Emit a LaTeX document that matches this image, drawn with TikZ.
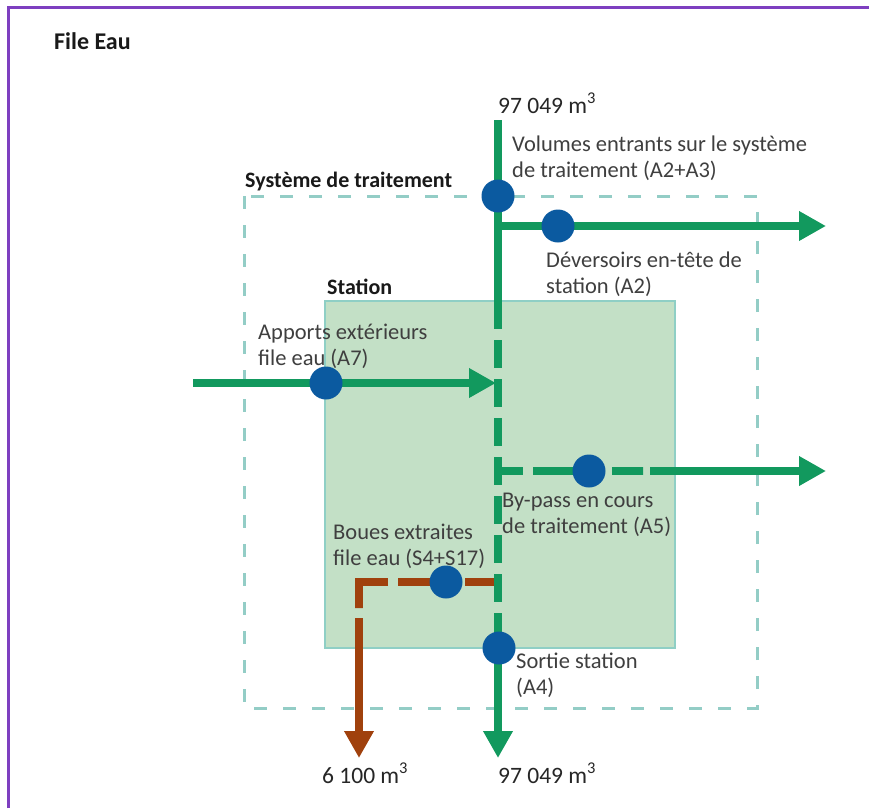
\documentclass[tikz,border=0pt]{standalone}
\usepackage{fontspec}
\setmainfont{Carlito}
\usetikzlibrary{arrows.meta}
\definecolor{flowgreen}{HTML}{12995E}
\definecolor{mblue}{HTML}{0B5AA0}
\definecolor{sludge}{HTML}{A0410D}
\definecolor{stfill}{HTML}{C3E0C6}
\definecolor{stedge}{HTML}{8FCFC5}
\definecolor{sysedge}{HTML}{93CDC6}
\definecolor{txt}{HTML}{3F3F3F}
\definecolor{frame}{HTML}{7E3FC0}
\begin{document}
\begin{tikzpicture}[x=1pt,y=-1pt,
  flow/.style={line width=8pt, draw=flowgreen},
  bflow/.style={line width=8pt, draw=sludge},
  tipg/.style={-{Triangle[width=28pt,length=27pt]}},
  meas/.style={circle, fill=mblue, minimum size=33pt, inner sep=0pt},
  lbl/.style={font=\fontsize{22.5}{25.8}\selectfont, text=txt, align=left, inner sep=0pt, anchor=base west},
  vol/.style={font=\fontsize{23.5}{26}\selectfont, text=black!85, inner sep=0pt, anchor=base west},
  head/.style={font=\fontsize{22}{25.5}\selectfont\bfseries, text=black!90, inner sep=0pt, anchor=base west}]
\useasboundingbox (0,0) rectangle (869,808);
\fill[white] (0,0) rectangle (869,808);
% frame
\draw[frame, line width=2.5pt] (8.5,808) -- (8.5,7.5) -- (869,7.5);
% title
\node[head, font=\fontsize{24}{28}\selectfont\bfseries] (title) at (54,50) {File Eau};
% boxes
\draw[sysedge, line width=3pt, dash pattern=on 13pt off 16pt] (244,196) rectangle (757,708);
\draw[stedge, fill=stfill, line width=2.5pt] (325,301) rectangle (675,648);
\node[head] (systl) at (245,187) {Système de traitement};
\node[head] (stal) at (327,294) {Station};
% coordinates
\coordinate (vtop) at (498,120);
\coordinate (vs1) at (498,329);
\coordinate (vd1) at (498,340);
\coordinate (vd2) at (498,602);
\coordinate (vs2) at (498,613);
\coordinate (vend) at (498,758);
\coordinate (j1) at (498,226);
\coordinate (eA2) at (826,226);
\coordinate (sA7) at (193,383);
\coordinate (eA7) at (496,383);
\coordinate (j2) at (502,471);
\coordinate (dA5) at (643,471);
\coordinate (sA5) at (650,471);
\coordinate (eA5) at (826,471);
\coordinate (j3) at (494,582);
\coordinate (bc) at (359,582);
\coordinate (bd) at (359,608);
\coordinate (bs) at (359,618);
\coordinate (bend) at (359,758);
% flows
\draw[flow] (vtop) -- (vs1);
\draw[flow, dash pattern=on 28pt off 11pt] (vd1) -- (vd2);
\draw[flow, tipg] (vs2) -- (vend);
\draw[flow, tipg] (j1) -- (eA2);
\draw[flow, tipg] (sA7) -- (eA7);
\draw[flow, dash pattern=on 21pt off 10pt on 69pt off 10pt on 31pt off 0pt] (j2) -- (dA5);
\draw[flow, tipg] (sA5) -- (eA5);
\draw[bflow, line join=miter, dash pattern=on 29pt off 3pt on 64pt off 10pt on 55pt off 0pt] (j3) -- (bc) -- (bd);
\draw[bflow, tipg] (bs) -- (bend);
% measurement points
\node[meas] (pA23) at (498,196) {};
\node[meas] (pA2) at (558,226) {};
\node[meas] (pA7) at (326,383) {};
\node[meas] (pA5) at (589,471) {};
\node[meas] (pS) at (446,582) {};
\node[meas] (pA4) at (499,648) {};
% labels (base anchor = last line's baseline)
\node[vol] (vin) at (498,113) {97 049 m\textsuperscript{3}};
\node[lbl] (lA23) at (512,177.5) {Volumes entrants sur le système\\de traitement (A2+A3)};
\node[lbl] (lA2) at (546,293) {Déversoirs en-tête de\\station (A2)};
\node[lbl] (lA7) at (258,365.5) {Apports extérieurs\\file eau (A7)};
\node[lbl] (lA5) at (502,533.5) {By-pass en cours\\de traitement (A5)};
\node[lbl] (lS) at (333,565.5) {Boues extraites\\file eau (S4+S17)};
\node[lbl] (lA4) at (516,694) {Sortie station\\(A4)};
\node[vol] (vs) at (322,783) {6 100 m\textsuperscript{3}};
\node[vol] (vout) at (498,783) {97 049 m\textsuperscript{3}};
\end{tikzpicture}
\end{document}
